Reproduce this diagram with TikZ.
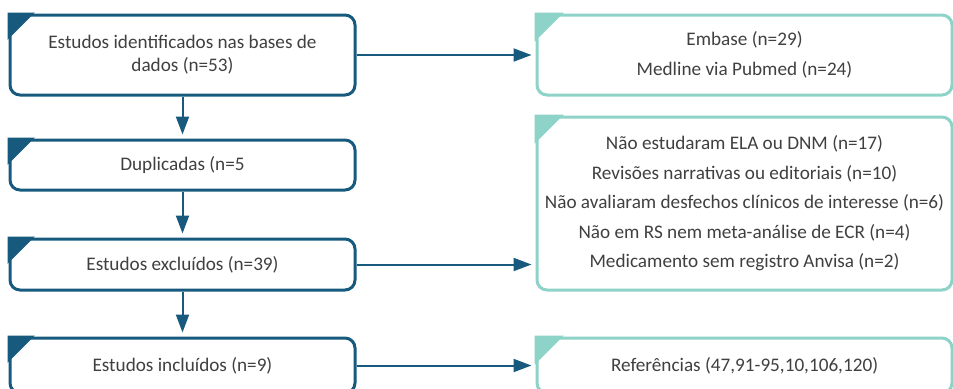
\documentclass[tikz,border=0pt]{standalone}
\usepackage{fontspec}
\setmainfont{Carlito}
\usepackage{xcolor}
\usetikzlibrary{arrows.meta}
\definecolor{flowblue}{HTML}{175A7E}
\definecolor{flowteal}{HTML}{8DD3C8}
\definecolor{flowtext}{HTML}{404040}

\begin{document}
\begin{tikzpicture}[x=0.5pt,y=-0.5pt,font=\fontsize{9.6}{11.5}\selectfont,text=flowtext]
% page frame, bottom boxes run off the edge
\clip (0,0) rectangle (953,388);
% Two box styles: step box (blue) and note box (teal)
\tikzstyle{step box}=[draw=flowblue,line width=1.5pt,rounded corners=5pt,fill=white,
  minimum width=172.5pt,inner sep=0pt,align=center];
\tikzstyle{note box}=[draw=flowteal,line width=1.5pt,rounded corners=5pt,fill=white,
  minimum width=207.5pt,inner sep=0pt,align=center,
  font=\fontsize{9.6}{14.75}\selectfont];
\tikzstyle{flow arrow}=[draw=flowblue,line width=1pt,-{Triangle[length=9pt,width=6.5pt]},shorten >=2pt];
% The boxes
\node(ident)[step box,minimum height=40pt] at (182.5,55){Estudos identificados nas bases de\\dados (n=53)};
\node(dupl)[step box,minimum height=25pt] at (182.5,165){Duplicadas (n=5};
\node(excl)[step box,minimum height=25.5pt] at (182.5,264.5){Estudos exclu\'idos (n=39)};
\node(incl)[step box,minimum height=27.5pt] at (182.5,365.5){Estudos inclu\'idos (n=9)};
\node(bases)[note box,minimum height=40pt] at (744.5,55){Embase (n=29)\\Medline via Pubmed (n=24)};
\node(motiv)[note box,minimum height=86.5pt] at (744.5,203.5){N\~ao estudaram ELA ou DNM (n=17)\\Revis\~oes narrativas ou editoriais (n=10)\\N\~ao avaliaram desfechos cl\'inicos de interesse (n=6)\\N\~ao em RS nem meta-an\'alise de ECR (n=4)\\Medicamento sem registro Anvisa (n=2)};
\node(refs)[note box,minimum height=27.5pt] at (744.5,365.5){Refer\^encias (47,91-95,10,106,120)};
% corner flags
\foreach \b in {ident,dupl,excl,incl}
  \filldraw[flowblue,line width=1pt,line join=miter](\b.north west)--++(24,0)--++(-24,24)--cycle;
\foreach \b in {bases,motiv,refs}
  \filldraw[flowteal,line width=1pt,line join=miter](\b.north west)--++(26,0)--++(-26,26)--cycle;
% connectors
\draw[flow arrow](ident)--(dupl);
\draw[flow arrow](dupl)--(excl);
\draw[flow arrow](excl)--(incl);
\draw[flow arrow](ident.east)--(ident.east-|bases.west);
\draw[flow arrow](excl.east)--(excl.east-|motiv.west);
\draw[flow arrow](incl.east)--(incl.east-|refs.west);
\end{tikzpicture}
\end{document}
